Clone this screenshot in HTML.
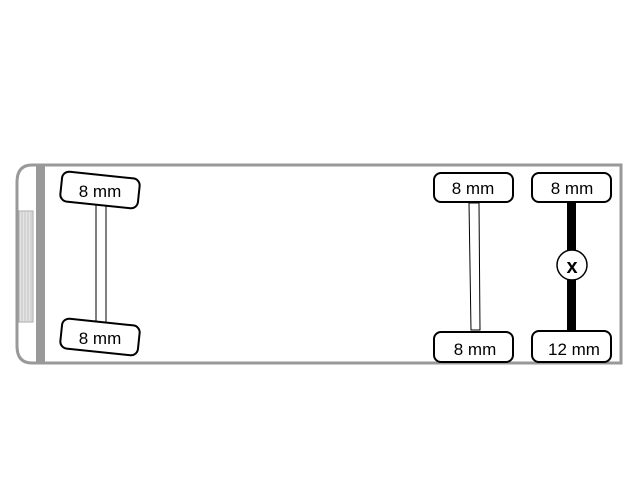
<!DOCTYPE html>
<html><head><style>body{margin:0;background:#fff}svg{display:block}</style></head>
<body>
<svg width="640" height="480" viewBox="0 0 640 480" xmlns="http://www.w3.org/2000/svg" font-family="Liberation Sans, sans-serif">
<rect width="640" height="480" fill="#fff"/>
<path d="M36,165 H621 V363 H36" fill="none" stroke="#999" stroke-width="3"/>
<path d="M36,165 H32 Q17,165 17,182 V346 Q17,363 32,363 H36" fill="none" stroke="#999" stroke-width="3"/>
<rect x="36" y="165" width="9" height="198" fill="#999"/>
<rect x="19" y="211" width="14" height="111" fill="#e4e4e4" stroke="#aaa" stroke-width="1"/>
<g stroke="#c4c4c4" stroke-width="1">
<line x1="22" y1="211" x2="22" y2="322"/><line x1="25" y1="211" x2="25" y2="322"/><line x1="28" y1="211" x2="28" y2="322"/><line x1="31" y1="211" x2="31" y2="322"/>
</g>
<rect x="96" y="205" width="10" height="120" fill="#fff" stroke="#000" stroke-width="1"/>
<g transform="rotate(6 100 190)"><rect x="61" y="175" width="78" height="30" rx="7" fill="#fff" stroke="#000" stroke-width="2"/></g>
<text x="100" y="197" font-size="17" text-anchor="middle">8 mm</text>
<g transform="rotate(6 100 337)"><rect x="61" y="322" width="78" height="30" rx="7" fill="#fff" stroke="#000" stroke-width="2"/></g>
<text x="100" y="344" font-size="17" text-anchor="middle">8 mm</text>
<polygon points="469,203 479,203 480,330 471,330" fill="#fff" stroke="#000" stroke-width="1"/>
<rect x="434" y="173" width="79" height="29" rx="7" fill="#fff" stroke="#000" stroke-width="2"/>
<text x="473" y="194" font-size="17" text-anchor="middle">8 mm</text>
<rect x="434" y="332" width="79" height="30" rx="7" fill="#fff" stroke="#000" stroke-width="2"/>
<text x="475" y="355" font-size="17" text-anchor="middle">8 mm</text>
<rect x="567" y="202" width="9" height="130" fill="#000"/>
<rect x="532" y="173" width="79" height="29" rx="7" fill="#fff" stroke="#000" stroke-width="2"/>
<text x="572" y="194" font-size="17" text-anchor="middle">8 mm</text>
<rect x="532" y="331" width="79" height="31" rx="7" fill="#fff" stroke="#000" stroke-width="2"/>
<text x="574" y="355" font-size="17" text-anchor="middle">12 mm</text>
<circle cx="572" cy="265" r="15" fill="#fff" stroke="#000" stroke-width="1.5"/>
<text x="572" y="273" font-size="20" font-weight="bold" text-anchor="middle">x</text>
</svg>
</body></html>
